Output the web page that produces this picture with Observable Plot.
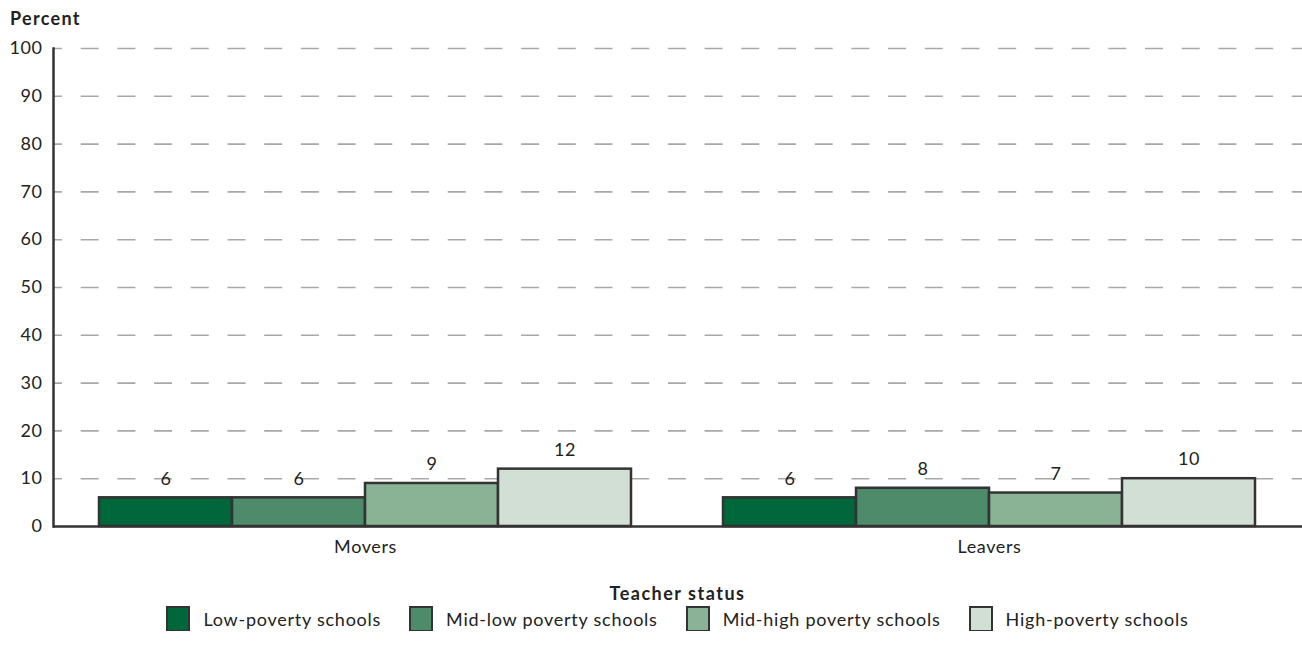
<!DOCTYPE html>
<html>
<head>
<meta charset="utf-8">
<script src="https://cdn.jsdelivr.net/npm/d3@7"></script>
<script src="https://cdn.jsdelivr.net/npm/@observablehq/plot@0.6"></script>
<style>
  html, body { margin: 0; padding: 0; background: #fff; }
  body { font-family: Lato, "Open Sans", sans-serif; color: #222; width: 1302px; }
  #ylabel { height: 30px; box-sizing: border-box; padding: 8px 0 0 10px; font-weight: bold; font-size: 18px; letter-spacing: 1.3px; line-height: 20px; }
  #chart { position: relative; width: 1302px; height: 535px; }
  #chart svg { position: absolute; left: 0; top: 0; background: transparent; }
  #xlabel { margin-top: 18px; padding-left: 53px; text-align: center; font-weight: bold; font-size: 18px; letter-spacing: 1.5px; line-height: 20px; }
  #legend { margin-top: 4px; padding-left: 53px; display: flex; justify-content: center; align-items: center; font-size: 18px; letter-spacing: 0.75px; height: 24px; }
  .item { display: flex; align-items: center; margin: 0 14px; }
  .swatch { width: 20px; height: 22px; border: 2px solid #333; margin-right: 13px; box-sizing: content-box; }
</style>
</head>
<body>
<div id="ylabel">Percent</div>
<div id="chart"></div>
<div id="xlabel">Teacher status</div>
<div id="legend"></div>
<script>
// Share of teachers who moved or left, by school poverty level
const statuses = ["Movers", "Leavers"];
const levels = ["Low-poverty schools", "Mid-low poverty schools", "Mid-high poverty schools", "High-poverty schools"];
const moversPct = [6, 6, 9, 12];
const leaversPct = [6, 8, 7, 10];
const levelColors = ["#00673d", "#4e8b6a", "#8ab395", "#d2dfd5"];
const yTicks = [0, 10, 20, 30, 40, 50, 60, 70, 80, 90, 100];

const rows = [];
[moversPct, leaversPct].forEach((vals, i) => {
  vals.forEach((v, j) => rows.push({status: statuses[i], level: levels[j], value: v}));
});

// Shared frame geometry for the stacked layers
const frame = {
  width: 1302,
  height: 535,
  marginTop: 18,
  marginLeft: 53,
  marginRight: 0,
  marginBottom: 39,
  style: {fontFamily: "Lato, 'Open Sans', sans-serif", fontSize: "18px", letterSpacing: "0.6px", color: "#222", background: "transparent"},
  y: {domain: [0, 100], label: null}
};

// Back layer: dashed gridlines spanning the whole frame and y tick labels
const back = Plot.plot({
  ...frame,
  marks: [
    Plot.ruleY(yTicks.filter(d => d > 0), {stroke: "#a8a8a8", strokeWidth: 1.6, strokeDasharray: "18,18.7", strokeDashoffset: 9}),
    Plot.axisY({ticks: yTicks, tickSize: 0, tickPadding: 11, label: null, fontSize: 18})
  ]
});

// Middle layer: grouped bars faceted by teacher status
const front = Plot.plot({
  ...frame,
  fx: {domain: statuses, paddingInner: 0.147, paddingOuter: 0.0737, label: null},
  x: {domain: levels, padding: 0, axis: null},
  color: {domain: levels, range: levelColors},
  marks: [
    Plot.barY(rows, {fx: "status", x: "level", y: "value", fill: "level", stroke: "#333", strokeWidth: 2.5}),
    Plot.text(rows, {fx: "status", x: "level", y: "value", text: d => String(d.value), dy: -19, fill: "#222", fontSize: 18}),
    Plot.axisY({ticks: [], label: null}),
    Plot.axisFx({anchor: "bottom", tickSize: 0, tickPadding: 14, label: null, fontSize: 18})
  ]
});

// Top layer: axis lines drawn over the bars
const lines = Plot.plot({
  ...frame,
  marks: [
    Plot.ruleY([0], {stroke: "#333", strokeWidth: 2.5}),
    Plot.frame({anchor: "left", stroke: "#333", strokeWidth: 2.5}),
    Plot.axisY({ticks: [], label: null})
  ]
});

const host = document.getElementById("chart");
host.appendChild(back);
host.appendChild(front);
host.appendChild(lines);

const legend = document.getElementById("legend");
levels.forEach((lv, i) => {
  const item = document.createElement("div");
  item.className = "item";
  const sw = document.createElement("span");
  sw.className = "swatch";
  sw.style.background = levelColors[i];
  const label = document.createElement("span");
  label.textContent = lv;
  item.appendChild(sw);
  item.appendChild(label);
  legend.appendChild(item);
});
</script>
</body>
</html>
